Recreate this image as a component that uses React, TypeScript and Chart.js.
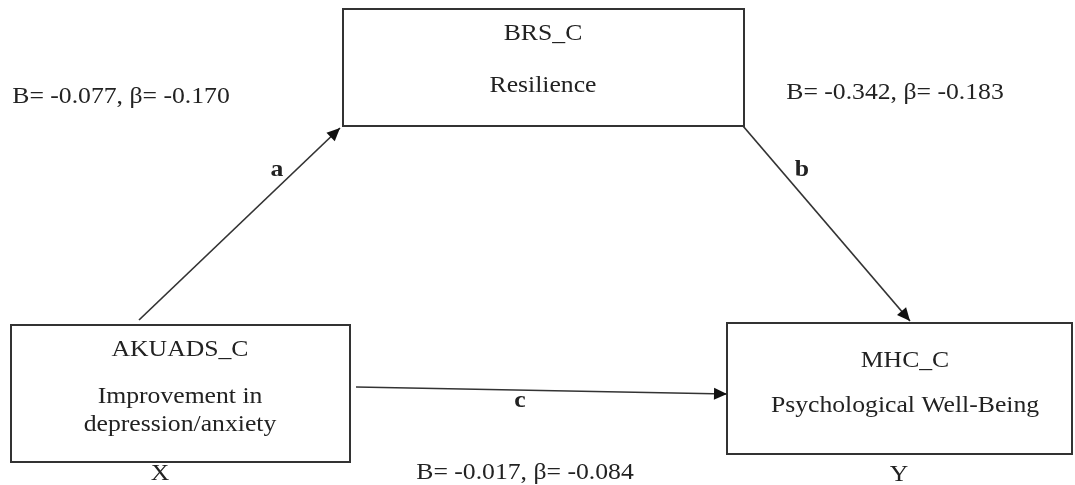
import React, { useEffect, useRef } from "react";
import { Chart, registerables } from "chart.js";
Chart.register(...registerables);

// ---- data ----
const nodeCodes = ["AKUADS_C", "BRS_C", "MHC_C"];
const nodeLabels = [["Improvement in", "depression/anxiety"], ["Resilience"], ["Psychological Well-Being"]];
const nodeRoles = ["X", "", "Y"];
const pathNames = ["a", "b", "c"];
const pathB = ["-0.077", "-0.342", "-0.017"];
const pathBeta = ["-0.170", "-0.183", "-0.084"];

// ---- layout (diagram coordinates in scale units) ----
const boxes = [
  { x0: 11, y0: 325, x1: 350, y1: 462, cx: 180, codeY: 350, lineY: [397, 425], roleX: 160, roleY: 474 },
  { x0: 343, y0: 9, x1: 744, y1: 126, cx: 543, codeY: 34, lineY: [86], roleX: 0, roleY: 0 },
  { x0: 727, y0: 323, x1: 1072, y1: 454, cx: 905, codeY: 361, lineY: [406], roleX: 899, roleY: 475 },
];
const arrows = [
  { from: [139, 320], to: [340, 128], label: [277, 170] },
  { from: [743, 126], to: [910, 321], label: [802, 170] },
  { from: [356, 387], to: [727, 394], label: [520, 401] },
];
const coefPos = [[121, 97], [895, 93], [525, 473]];

const FONT = '"Liberation Serif", "Times New Roman", serif';
const INK = "#222222";
const LINE = "#333333";
const STRETCH = 1.07;

export default function App() {
  const ref = useRef<HTMLCanvasElement | null>(null);
  useEffect(() => {
    const canvas = ref.current!;
    const datasets: any[] = [];
    boxes.forEach((b) => {
      datasets.push({
        data: [
          { x: b.x0, y: b.y0 }, { x: b.x1, y: b.y0 }, { x: b.x1, y: b.y1 }, { x: b.x0, y: b.y1 }, { x: b.x0, y: b.y0 }, { x: b.x1, y: b.y0 },
        ],
        showLine: true, borderColor: LINE, borderWidth: 2, pointRadius: 0, fill: false, tension: 0,
        borderJoinStyle: "miter", borderCapStyle: "square",
      });
    });
    arrows.forEach((a) => {
      datasets.push({
        data: [{ x: a.from[0], y: a.from[1] }, { x: a.to[0], y: a.to[1] }],
        showLine: true, borderColor: LINE, borderWidth: 1.7, pointRadius: 0, fill: false,
      });
    });

    const overlay = {
      id: "diagramText",
      afterDatasetsDraw(chart: any) {
        const ctx = chart.ctx;
        const xs = chart.scales.x, ys = chart.scales.y;
        const px = (v: number) => xs.getPixelForValue(v);
        const py = (v: number) => ys.getPixelForValue(v);
        const text = (t: string, x: number, y: number) => {
          ctx.save();
          ctx.translate(x, y);
          ctx.scale(STRETCH, 1);
          ctx.fillText(t, 0, 0);
          ctx.restore();
        };
        ctx.save();
        ctx.fillStyle = "#111111";
        // arrowheads
        arrows.forEach((a) => {
          const x1 = px(a.from[0]), y1 = py(a.from[1]);
          const x2 = px(a.to[0]), y2 = py(a.to[1]);
          const ang = Math.atan2(y2 - y1, x2 - x1);
          const L = 13, W = 6;
          ctx.beginPath();
          ctx.moveTo(x2, y2);
          ctx.lineTo(x2 - L * Math.cos(ang) + W * Math.sin(ang), y2 - L * Math.sin(ang) - W * Math.cos(ang));
          ctx.lineTo(x2 - L * Math.cos(ang) - W * Math.sin(ang), y2 - L * Math.sin(ang) + W * Math.cos(ang));
          ctx.closePath();
          ctx.fill();
        });
        ctx.fillStyle = INK;
        ctx.textAlign = "center";
        ctx.textBaseline = "middle";
        ctx.font = `24px ${FONT}`;
        boxes.forEach((b, i) => {
          text(nodeCodes[i], px(b.cx), py(b.codeY));
          nodeLabels[i].forEach((t, j) => text(t, px(b.cx), py(b.lineY[j])));
          if (nodeRoles[i]) text(nodeRoles[i], px(b.roleX), py(b.roleY));
        });
        coefPos.forEach((p, i) => {
          text(`B= ${pathB[i]}, \u03B2= ${pathBeta[i]}`, px(p[0]), py(p[1]));
        });
        ctx.font = `bold 24px ${FONT}`;
        arrows.forEach((a, i) => text(pathNames[i], px(a.label[0]), py(a.label[1])));
        ctx.restore();
      },
    };

    const chart = new Chart(canvas, {
      type: "scatter",
      data: { datasets },
      options: {
        animation: false,
        responsive: false,
        layout: { padding: 0 },
        plugins: { legend: { display: false }, tooltip: { enabled: false } },
        scales: {
          x: { type: "linear", min: 0, max: 1075, display: false },
          y: { type: "linear", min: 0, max: 485, reverse: true, display: false },
        },
      },
      plugins: [overlay],
    });
    return () => chart.destroy();
  }, []);
  return (
    <div style={{ position: "fixed", left: 0, top: 0, width: 1075, height: 485, background: "#fff" }}>
      <canvas ref={ref} width={1075} height={485} />
    </div>
  );
}
